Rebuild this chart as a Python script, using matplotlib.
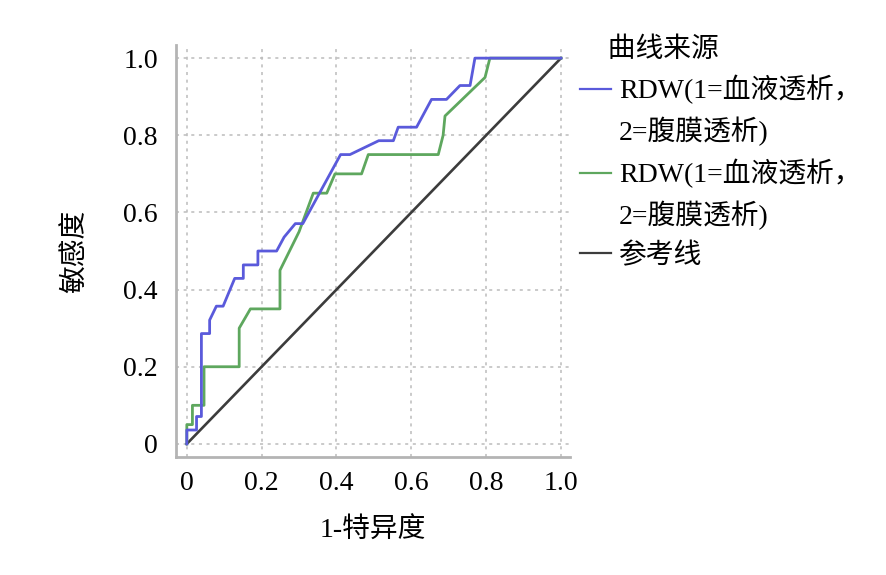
import matplotlib.pyplot as plt
from matplotlib.lines import Line2D

plt.rcParams['font.family'] = ['Liberation Serif', 'Noto Sans CJK SC', 'DejaVu Sans']

# ROC 曲线数据 (1-特异度, 敏感度)
fpr_hd = [0, 0, 0.026, 0.026, 0.039, 0.039, 0.061, 0.061, 0.079, 0.097, 0.128, 0.151,
          0.151, 0.19, 0.19, 0.24, 0.26, 0.29, 0.31, 0.411, 0.436, 0.513, 0.552, 0.565,
          0.614, 0.654, 0.694, 0.73, 0.757, 0.77, 1.0]
tpr_hd = [0, 0.036, 0.036, 0.071, 0.071, 0.286, 0.286, 0.321, 0.357, 0.357, 0.429, 0.429,
          0.464, 0.464, 0.5, 0.5, 0.536, 0.571, 0.571, 0.75, 0.75, 0.786, 0.786, 0.821,
          0.821, 0.893, 0.893, 0.929, 0.929, 1.0, 1.0]

fpr_pd = [0, 0, 0.015, 0.015, 0.046, 0.046, 0.14, 0.14, 0.17, 0.249, 0.249, 0.30, 0.338,
          0.374, 0.396, 0.467, 0.485, 0.672, 0.685, 0.69, 0.797, 0.81, 1.0]
tpr_pd = [0, 0.05, 0.05, 0.1, 0.1, 0.2, 0.2, 0.3, 0.35, 0.35, 0.45, 0.55, 0.65,
          0.65, 0.70, 0.70, 0.75, 0.75, 0.80, 0.85, 0.95, 1.0, 1.0]

ref_x = [0, 1]
ref_y = [0, 1]

ticks = [0, 0.2, 0.4, 0.6, 0.8, 1.0]
tick_labels = ['0', '0.2', '0.4', '0.6', '0.8', '1.0']

c_blue = '#5a5adb'
c_green = '#5ea75e'
c_ref = '#3c3c3c'

fig = plt.figure(figsize=(8.86, 5.75), dpi=100)
ax = fig.add_axes([0.1986, 0.2052, 0.4447, 0.7165])

ax.plot(ref_x, ref_y, color=c_ref, lw=1.9, zorder=2)
ax.plot(fpr_pd, tpr_pd, color=c_green, lw=2, zorder=3)
ax.plot(fpr_hd, tpr_hd, color=c_blue, lw=2, zorder=4)

ax.set_xlim(-0.029, 1.024)
ax.set_ylim(-0.034, 1.034)
ax.set_xticks(ticks)
ax.set_xticklabels(tick_labels)
ax.set_yticks(ticks)
ax.set_yticklabels(tick_labels)
ax.tick_params(axis='both', length=0, labelsize=20)
ax.tick_params(axis='x', pad=10)
ax.tick_params(axis='y', pad=13)
ax.grid(True, color='#bcbcbc', linestyle=(0, (2, 3)), linewidth=1.1)

for s in ['top', 'right']:
    ax.spines[s].set_visible(False)
for s in ['left', 'bottom']:
    ax.spines[s].set_color('#b4b4b4')
    ax.spines[s].set_linewidth(2)

ax.set_xlabel('1-特异度', fontsize=20, labelpad=16)
ax.set_ylabel('敏感度', fontsize=20, labelpad=25)

# 图例：每条曲线的标签占两行
blank = Line2D([], [], color='none')
handles = [Line2D([], [], color=c_blue, lw=1.6), blank,
           Line2D([], [], color=c_green, lw=1.6), blank,
           Line2D([], [], color=c_ref, lw=1.6)]
labels = ['RDW(1=血液透析，', '2=腹膜透析)', 'RDW(1=血液透析，', '2=腹膜透析)', '参考线']
leg = fig.legend(handles, labels, title='\u3000曲线来源', loc='upper left',
                 bbox_to_anchor=(580 / 886, 1 - 37 / 575), frameon=False,
                 fontsize=20, title_fontsize=20, alignment='left',
                 handlelength=1.1, handletextpad=0.3, labelspacing=0.45,
                 borderpad=0, borderaxespad=0)

fig.savefig('out.png', dpi=100)
